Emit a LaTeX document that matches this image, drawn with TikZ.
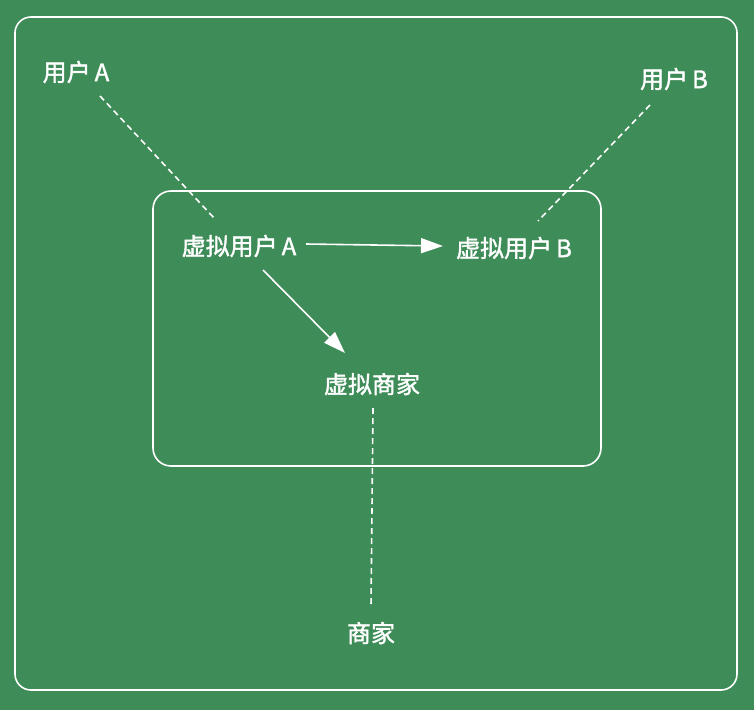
\documentclass[tikz,border=0pt]{standalone}
\usepackage{fontspec}
\setmainfont{Liberation Sans}
\newfontfamily\cjk[FakeBold=1.5]{Noto Sans CJK SC}
\usetikzlibrary{arrows.meta}
\definecolor{bggreen}{RGB}{62,140,88}
\tikzset{
  lbl/.style={text=white,font=\cjk\fontsize{24}{27}\selectfont,inner sep=0pt},
  frame/.style={draw=white,line width=1.6pt,rounded corners=16pt},
  dashline/.style={draw=white,line width=1.6pt,dash pattern=on 6pt off 4pt},
  arr/.style={draw=white,line width=1.6pt,-{Triangle[length=22pt,width=15pt]}}
}
\begin{document}
\begin{tikzpicture}[x=1pt,y=-1pt]
\fill[bggreen] (0,0) rectangle (754,710);
\useasboundingbox (0,0) rectangle (754,710);
\draw[frame] (15,17) rectangle (737,690);
\draw[frame,rounded corners=18pt] (153,191) rectangle (601,466);

\node[lbl] (ua) at (76,72) {用户\,A};
\node[lbl] (ub) at (674,79) {用户\,B};
\node[lbl] (va) at (239,246) {虚拟用户\,A};
\node[lbl] (vb) at (514,248) {虚拟用户\,B};
\node[lbl] (vm) at (372,384) {虚拟商家};
\node[lbl] (m) at (371,633) {商家};

\coordinate (uaE) at (100,96);
\coordinate (vaN) at (215,219);
\coordinate (ubE) at (650,105);
\coordinate (vbN) at (538,221);
\coordinate (vmS) at (373,408);
\coordinate (mN) at (371,607);
\coordinate (vaE) at (306,244);
\coordinate (vbW) at (443,246);
\coordinate (vaS) at (263,270);
\coordinate (vmN) at (345,353);

\draw[dashline] (uaE) -- (vaN);
\draw[dashline] (ubE) -- (vbN);
\draw[dashline] (vmS) -- (mN);
\draw[arr] (vaE) -- (vbW);
\draw[arr] (vaS) -- (vmN);
\end{tikzpicture}
\end{document}
